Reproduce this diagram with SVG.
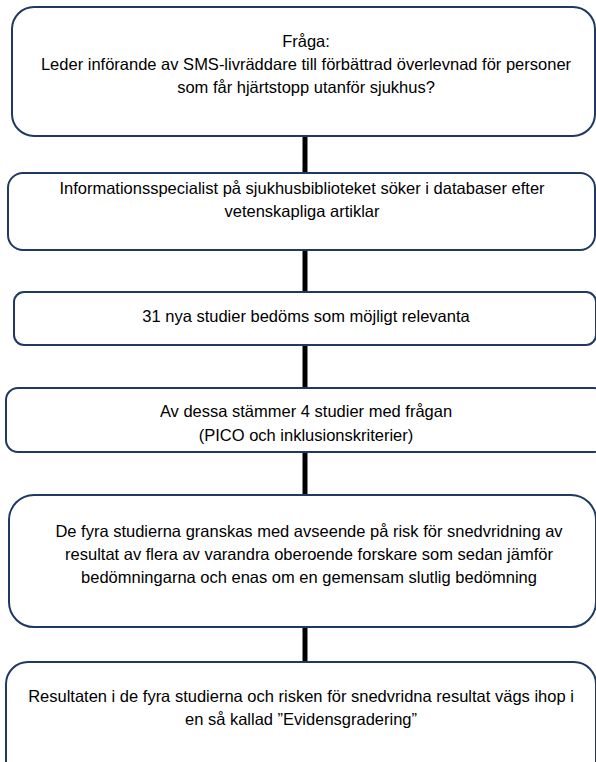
<svg xmlns="http://www.w3.org/2000/svg" width="596" height="762" viewBox="0 0 596 762">
<style>
.box{fill:#ffffff;stroke:#1f3864;stroke-width:2}
.t{font-family:"Liberation Sans",Arial,sans-serif;font-size:16.5px;fill:#000;text-anchor:middle}
.c{stroke:#000;stroke-width:5;fill:none}
</style>
<rect width="596" height="762" fill="#ffffff"/>
<g id="connectors">
<line class="c" x1="305" y1="136" x2="305" y2="174"/>
<line class="c" x1="305" y1="250" x2="305" y2="293"/>
<line class="c" x1="305" y1="345" x2="305" y2="389"/>
<line class="c" x1="305" y1="452" x2="305" y2="496"/>
<line class="c" x1="305" y1="627" x2="305" y2="663"/>
</g>
<g id="n1">
<rect class="box" x="12" y="7" width="583" height="129" rx="22"/>
<text class="t" x="306" y="47">Fråga:</text>
<text class="t" x="306" y="70">Leder införande av SMS-livräddare till förbättrad överlevnad för personer</text>
<text class="t" x="306" y="93">som får hjärtstopp utanför sjukhus?</text>
</g>
<g id="n2">
<rect class="box" x="8" y="173" width="587" height="77" rx="15"/>
<text class="t" x="302" y="194">Informationsspecialist på sjukhusbiblioteket söker i databaser efter</text>
<text class="t" x="302" y="217">vetenskapliga artiklar</text>
</g>
<g id="n3">
<rect class="box" x="14" y="292" width="582" height="53" rx="10"/>
<text class="t" x="306" y="322">31 nya studier bedöms som möjligt relevanta</text>
</g>
<g id="n4">
<rect class="box" x="6" y="388" width="600" height="64" rx="12"/>
<text class="t" x="306" y="417">Av dessa stämmer 4 studier med frågan</text>
<text class="t" x="306" y="441">(PICO och inklusionskriterier)</text>
</g>
<g id="n5">
<rect class="box" x="9" y="495" width="587" height="132" rx="25"/>
<text class="t" x="309" y="537">De fyra studierna granskas med avseende på risk för snedvridning av</text>
<text class="t" x="309" y="560">resultat av flera av varandra oberoende forskare som sedan jämför</text>
<text class="t" x="309" y="583">bedömningarna och enas om en gemensam slutlig bedömning</text>
</g>
<g id="n6">
<rect class="box" x="6" y="662" width="590" height="130" rx="22"/>
<text class="t" x="301" y="702">Resultaten i de fyra studierna och risken för snedvridna resultat vägs ihop i</text>
<text class="t" x="301" y="725">en så kallad ”Evidensgradering”</text>
</g>
</svg>
